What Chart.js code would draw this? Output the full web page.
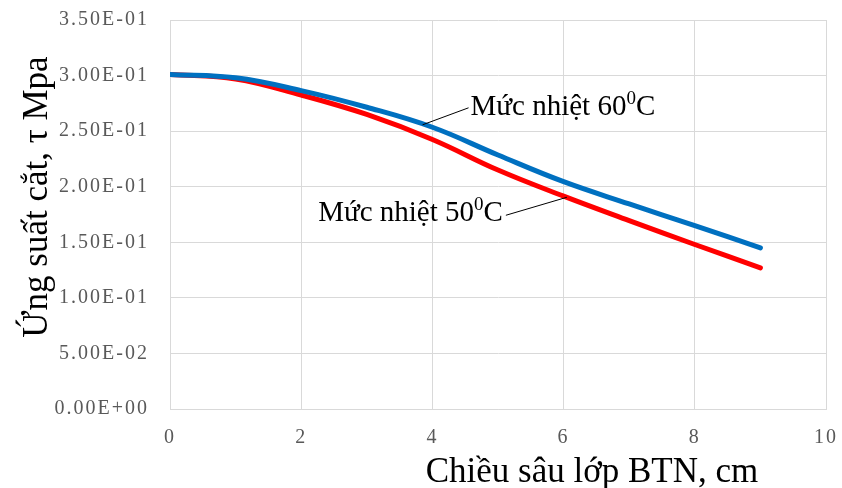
<!DOCTYPE html>
<html lang="vi">
<head>
<meta charset="utf-8">
<title>Ứng suất cắt theo chiều sâu lớp BTN</title>
<script src="https://cdn.jsdelivr.net/npm/chart.js@4/dist/chart.umd.min.js"></script>
<style>
  html, body { margin: 0; padding: 0; background: #ffffff; }
  #wrap { position: relative; width: 842px; height: 488px; }
</style>
</head>
<body>
<div id="wrap"><canvas id="chart"></canvas></div>
<script>
// Chiều sâu lớp BTN (cm)
const depth = [0, 1, 2, 3, 4, 5, 6, 7, 8, 9];
// Ứng suất cắt τ (MPa) ở mức nhiệt 60°C
const tau60 = [0.301, 0.298, 0.2865, 0.2715, 0.2535, 0.2285, 0.2045, 0.1845, 0.165, 0.145];
// Ứng suất cắt τ (MPa) ở mức nhiệt 50°C
const tau50 = [0.301, 0.297, 0.2825, 0.265, 0.2425, 0.215, 0.1915, 0.1695, 0.148, 0.127];

const seriesNames = ['Mức nhiệt 60', 'Mức nhiệt 50'];
const xTitle = 'Chiều sâu lớp BTN, cm';
const yTitle = 'Ứng suất cắt, τ Mpa';

// Điểm trên đường cong mà mỗi nhãn chú thích chỉ vào
const label60At = { x: 3.85, y: 0.2557 };
const label50At = { x: 6.05, y: 0.1905 };

const SERIF = '"Liberation Serif", "Times New Roman", serif';

function sci(v) {
  // Định dạng kiểu 3.50E-01
  const [m, e] = Number(v).toExponential(2).split('e');
  const n = parseInt(e, 10);
  return m + 'E' + (n < 0 ? '-' : '+') + String(Math.abs(n)).padStart(2, '0');
}

function toPoints(xs, ys) {
  return xs.map((x, i) => ({ x: x, y: ys[i] }));
}

// Vẽ nhãn "Mức nhiệt xx⁰C" với số 0 viết lên trên
function drawTempLabel(ctx, text, x, y, align) {
  const big = '29px ' + SERIF;
  const small = '19px ' + SERIF;
  ctx.font = big;
  const w1 = ctx.measureText(text).width;
  const wC = ctx.measureText('C').width;
  ctx.font = small;
  const w0 = ctx.measureText('0').width;
  const total = w1 + w0 + wC;
  const left = align === 'right' ? x - total : x;
  ctx.textAlign = 'left';
  ctx.textBaseline = 'alphabetic';
  ctx.fillStyle = '#000000';
  ctx.font = big;
  ctx.fillText(text, left, y);
  ctx.font = small;
  ctx.fillText('0', left + w1, y - 11);
  ctx.font = big;
  ctx.fillText('C', left + w1 + w0, y);
}

const overlay = {
  id: 'overlay',
  beforeDraw(chart) {
    // Nhãn trục hơi giãn chữ
    chart.ctx.letterSpacing = '2px';
  },
  beforeDatasetsDraw(chart) {
    chart.ctx.letterSpacing = '0px';
  },
  afterDraw(chart) {
    const ctx = chart.ctx;
    const xs = chart.scales.x, ys = chart.scales.y;
    ctx.save();
    ctx.letterSpacing = '0px';

    // Tiêu đề trục
    ctx.fillStyle = '#000000';
    ctx.font = '35px ' + SERIF;
    ctx.textAlign = 'center';
    ctx.textBaseline = 'alphabetic';
    ctx.fillText(xTitle, 592, 482);

    ctx.save();
    ctx.translate(47, 197);
    ctx.rotate(-Math.PI / 2);
    ctx.fillText(yTitle, 0, 0);
    ctx.restore();

    // Chú thích 60°C
    const p60x = xs.getPixelForValue(label60At.x);
    const p60y = ys.getPixelForValue(label60At.y);
    ctx.strokeStyle = '#000000';
    ctx.lineWidth = 1;
    ctx.beginPath();
    ctx.moveTo(p60x, p60y);
    ctx.lineTo(p60x + 46, p60y - 17);
    ctx.stroke();
    drawTempLabel(ctx, seriesNames[0], p60x + 48, p60y - 10, 'left');

    // Chú thích 50°C
    const p50x = xs.getPixelForValue(label50At.x);
    const p50y = ys.getPixelForValue(label50At.y);
    ctx.beginPath();
    ctx.moveTo(p50x, p50y);
    ctx.lineTo(p50x - 61, p50y + 18);
    ctx.stroke();
    drawTempLabel(ctx, seriesNames[1], p50x - 64, p50y + 24, 'right');

    ctx.restore();
  }
};

new Chart(document.getElementById('chart'), {
  type: 'line',
  data: {
    datasets: [
      {
        label: seriesNames[0] + '°C',
        data: toPoints(depth, tau60),
        borderColor: '#0070C0',
        borderWidth: 5,
        borderCapStyle: 'round',
        borderJoinStyle: 'round',
        pointRadius: 0,
        tension: 0.4,
        fill: false
      },
      {
        label: seriesNames[1] + '°C',
        data: toPoints(depth, tau50),
        borderColor: '#FF0000',
        borderWidth: 5,
        borderCapStyle: 'round',
        borderJoinStyle: 'round',
        pointRadius: 0,
        tension: 0.4,
        fill: false
      }
    ]
  },
  options: {
    responsive: true,
    maintainAspectRatio: false,
    animation: false,
    events: [],
    layout: { padding: { left: 0, top: 20, right: 16, bottom: 0 } },
    plugins: {
      legend: { display: false },
      tooltip: { enabled: false },
      title: { display: false }
    },
    scales: {
      x: {
        type: 'linear',
        min: 0,
        max: 10,
        ticks: {
          stepSize: 2,
          autoSkip: false,
          maxRotation: 0,
          padding: 17,
          color: '#595959',
          font: { family: SERIF, size: 20 }
        },
        grid: { color: '#d9d9d9', lineWidth: 1, drawTicks: false },
        border: { color: '#d9d9d9', width: 1 },
        afterFit(scale) {
          scale.height = 79;
          scale.paddingLeft = 0;
          scale.paddingRight = 0;
        }
      },
      y: {
        type: 'linear',
        min: 0,
        max: 0.35,
        ticks: {
          stepSize: 0.05,
          padding: 21,
          color: '#595959',
          font: { family: SERIF, size: 20 },
          callback: (v) => sci(v)
        },
        grid: { color: '#d9d9d9', lineWidth: 1, drawTicks: false },
        border: { color: '#d9d9d9', width: 1 },
        afterFit(scale) {
          scale.width = 170;
          scale.paddingTop = 0;
          scale.paddingBottom = 0;
        }
      }
    }
  },
  plugins: [overlay]
});
</script>
</body>
</html>
